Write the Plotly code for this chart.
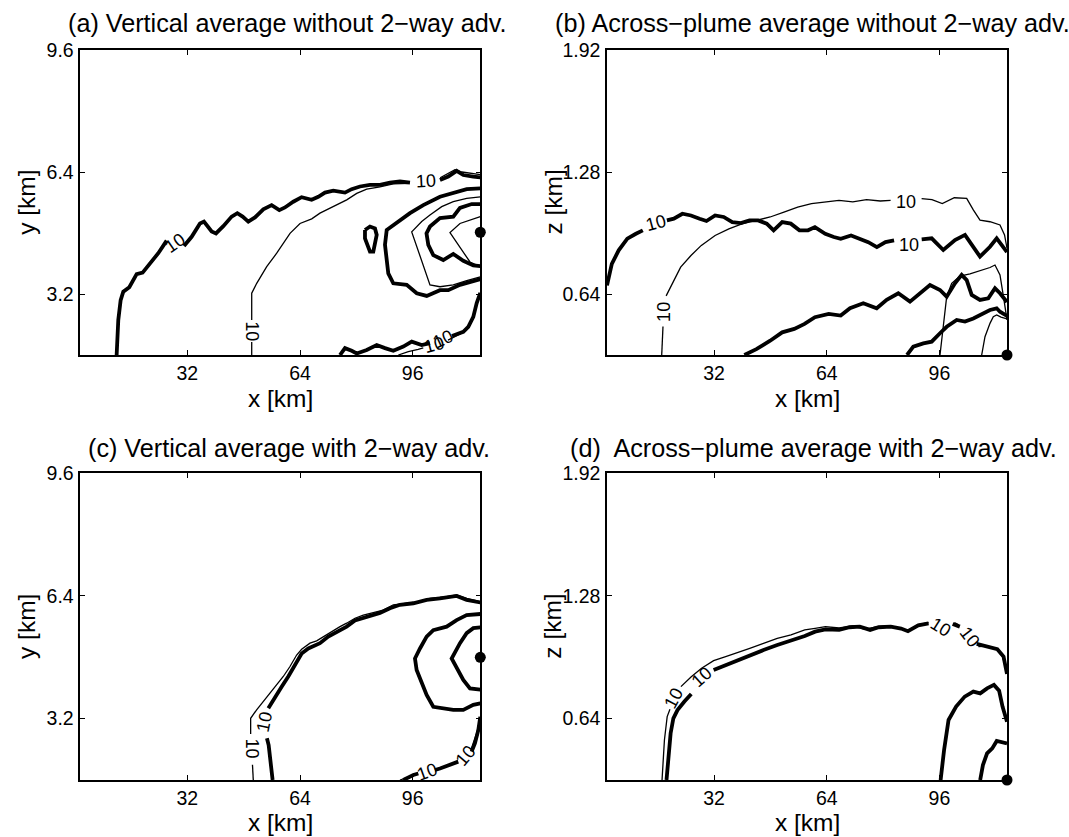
import plotly.graph_objects as go

FONT = "Liberation Sans, Arial, Helvetica, sans-serif"
MINUS = "\u2212"

# ---------------- data (km) ----------------
x_range = [1.6, 115.2]
y_range = [1.6, 9.6]
z_range = [0.32, 1.92]
x_ticks = [32, 64, 96]
y_ticks = [3.2, 6.4, 9.6]
z_ticks = [0.64, 1.28, 1.92]

titles = ["(a) Vertical average without 2" + MINUS + "way adv.",
          "(b) Across" + MINUS + "plume average without 2" + MINUS + "way adv.",
          "(c) Vertical average with 2" + MINUS + "way adv.",
          "(d)  Across" + MINUS + "plume average with 2" + MINUS + "way adv."]
x_label = "x [km]"
y_label = "y [km]"
z_label = "z [km]"
contour_text = "10"

# panel (a)
a_out_thick_x = [11.92, 12.39, 13.06, 13.81, 15.52, 17.60, 19.30, 21.39, 23.75, 26.12, None, 31.04, 33.22, 35.59, 36.72, 38.90, 40.13, 42.21, 44.58, 46.19, 47.70, 49.31, 51.21, 53.57, 55.94, 58.12, 59.73, 62.09, 64.46, 67.30, 69.19, 71.09, 73.45, 76.77, 78.66, 81.03, 83.87, 86.71, 89.55, 92.39, 95.23, None, 103.75, 106.11, 108.48, 110.38, 113.21, 115.2]
a_out_thick_y = [1.60, 2.52, 3.04, 3.26, 3.38, 3.72, 3.76, 3.99, 4.27, 4.60, None, 4.46, 4.70, 5.05, 5.10, 4.84, 4.79, 4.98, 5.23, 5.32, 5.23, 5.10, 5.21, 5.42, 5.53, 5.40, 5.47, 5.62, 5.74, 5.67, 5.75, 5.86, 5.91, 5.86, 5.95, 6.02, 6.06, 6.06, 6.12, 6.15, 6.12, None, 6.19, 6.28, 6.43, 6.32, 6.28, 6.26]
a_out_thin_x = [50.28, 50.28, None, 50.28, 50.28, 51.70, 54.54, 57.38, 61.16, 64.00, 67.32, 69.67, 73.45, 77.26, 80.10, 82.94, 86.71, 90.49, 95.00, None, 103.8, 108.0, 110.0, 113.2, 115.2]
a_out_thin_y = [1.60, 1.94, None, 2.52, 3.22, 3.48, 3.92, 4.27, 4.79, 5.05, 5.17, 5.32, 5.49, 5.67, 5.84, 5.95, 6.01, 6.09, 6.10, None, 6.25, 6.46, 6.40, 6.35, 6.33]
a_ring2_thick_x = [115.2, 111.34, 103.75, 99.01, 95.23, 92.39, 88.62, 88.13, 88.62, 89.07, 90.49, 94.30, 97.14, 99.98, 103.75, 106.11, 109.43, 115.2]
a_ring2_thick_y = [5.97, 5.95, 5.75, 5.53, 5.32, 5.14, 4.88, 4.49, 4.09, 3.74, 3.48, 3.44, 3.22, 3.15, 3.30, 3.30, 3.44, 3.59]
a_loop_thick_x = [82.45, 83.87, 85.29, 85.78, 85.29, 84.81, 83.87, 83.11, 82.45, 82.45]
a_loop_thick_y = [4.88, 4.97, 4.92, 4.75, 4.53, 4.31, 4.31, 4.49, 4.66, 4.88]
a_ring3_thin_x = [115.2, 111.34, 107.53, 104.24, 100.91, 98.56, 95.72, 97.14, 98.56, 99.98, 100.91, 103.75, 107.53, 111.34, 115.2]
a_ring3_thin_y = [5.75, 5.71, 5.62, 5.49, 5.27, 5.10, 4.83, 4.44, 4.09, 3.70, 3.44, 3.39, 3.44, 3.55, 3.65]
a_ring4_thick_x = [115.2, 112.76, 109.43, 107.53, 103.75, 100.91, 99.92, 100.43, 101.85, 104.69, 107.53, 110.37, 113.21, 115.2]
a_ring4_thick_y = [5.56, 5.56, 5.46, 5.23, 5.19, 4.97, 4.79, 4.49, 4.22, 4.09, 4.25, 4.07, 3.95, 3.93]
a_ring5_thin_x = [115.2, 109.43, 106.59, 109.43, 112.27, 115.2]
a_ring5_thin_y = [5.23, 5.05, 4.81, 4.44, 4.04, 3.92]
a_bot_thick_x = [75.35, 76.77, 78.68, 80.10, 82.94, 85.78, 88.13, 90.49, 93.33, 95.72, 98.56, 100.91, None, 107.16, 110.37, 111.79, 113.21, 114.18, 115.2]
a_bot_thick_y = [1.60, 1.78, 1.71, 1.64, 1.73, 1.86, 1.78, 1.71, 1.82, 1.95, 1.86, 1.91, None, 2.10, 2.21, 2.34, 2.60, 2.96, 3.23]
a_bot_thin_x = [91.92, 94.76, 97.56, 99.0, None, 106.03, 109.46, 111.42, 112.84, 113.97, 115.2]
a_bot_thin_y = [1.60, 1.69, 1.75, 1.79, None, 1.99, 2.15, 2.31, 2.54, 2.89, 3.20]
a_lab_x = [28.5, 99.7, 50.28, 102.0, 104.6]
a_lab_y = [4.54, 6.17, 2.23, 1.87, 2.02]
a_lab_ang = [-35, -3, 90, -15, -25]
a_src = [115.2, 4.82]

# panel (b)
b_t1_thick_x = [1.6, 2.97, 4.92, 7.37, 9.81, 11.77, None, 18.61, 20.57, 23.01, 25.45, 27.90, 29.85, 32.30, 34.74, 37.18, 39.63, 42.07, 44.52, 46.96, 48.92, 51.36, 53.80, 56.25, 58.69, 60.65, 63.58, 66.02, 67.98, 70.91, 73.36, 75.80, 78.24, 80.69, 83.13, None, 90.97, 93.81, 97.11, 100.43, 103.27, 107.53, 110.37, 112.27, 115.2]
b_t1_thick_y = [0.685, 0.798, 0.869, 0.930, 0.956, 0.974, None, 1.026, 1.035, 1.061, 1.052, 1.035, 1.023, 1.052, 1.044, 1.017, 1.012, 1.026, 1.026, 1.009, 0.974, 1.017, 1.009, 0.974, 0.974, 0.991, 0.956, 0.939, 0.930, 0.947, 0.930, 0.912, 0.886, 0.912, 0.921, None, 0.927, 0.932, 0.871, 0.923, 0.950, 0.836, 0.888, 0.932, 0.860]
b_t2_thin_x = [17.14, 17.44, 17.50, None, 18.40, 20.08, 22.52, 25.45, 28.39, 32.30, 36.21, 40.12, 44.03, 47.94, 51.85, 55.76, 59.67, 63.58, 67.49, 71.40, 75.31, 79.22, 82.15, None, 90.95, 93.89, 96.82, 100.24, 103.75, 105.63, 107.53, 110.37, 113.21, 114.5, 115.2]
b_t2_thin_y = [0.32, 0.430, 0.470, None, 0.630, 0.693, 0.781, 0.842, 0.895, 0.947, 0.982, 1.009, 1.026, 1.044, 1.070, 1.096, 1.114, 1.123, 1.131, 1.123, 1.135, 1.128, 1.131, None, 1.140, 1.135, 1.114, 1.145, 1.142, 1.081, 1.028, 1.019, 1.002, 0.95, 0.88]
b_t3_thick_x = [40.61, 44.03, 47.94, 51.36, 54.78, 57.71, 60.65, 64.56, 67.98, 70.61, 74.39, 78.19, 81.03, 84.33, 87.65, 90.49, 93.33, 96.17, 98.07, 100.43, 102.33, 103.75, 105.17, 107.53, 109.89, 111.79, 113.21, 115.2]
b_t3_thick_y = [0.32, 0.351, 0.395, 0.439, 0.457, 0.483, 0.518, 0.536, 0.527, 0.565, 0.591, 0.565, 0.609, 0.644, 0.600, 0.644, 0.687, 0.661, 0.626, 0.696, 0.740, 0.713, 0.635, 0.609, 0.617, 0.670, 0.644, 0.598]
b_t4_thin_x = [96.17, 97.11, 98.07, 99.49, 101.85, 104.69, 107.53, 110.37, 111.79, 113.21, 114.35, 115.2]
b_t4_thin_y = [0.32, 0.486, 0.626, 0.696, 0.734, 0.745, 0.761, 0.779, 0.792, 0.740, 0.608, 0.504]
b_t5_thick_x = [86.80, 88.59, 91.43, 93.81, 96.17, 98.07, 100.91, 103.27, 105.63, 107.53, 110.37, 112.27, 113.21, 115.2]
b_t5_thick_y = [0.32, 0.364, 0.381, 0.390, 0.434, 0.468, 0.504, 0.495, 0.512, 0.530, 0.556, 0.565, 0.547, 0.525]
b_t6_thin_x = [108.01, 108.95, 110.37, 111.31, 112.27, 113.50, 115.2]
b_t6_thin_y = [0.32, 0.416, 0.486, 0.521, 0.530, 0.519, 0.509]
b_lab_x = [15.5, 17.6, 86.6, 87.5]
b_lab_y = [1.012, 0.548, 1.123, 0.895]
b_lab_ang = [-15, -90, 0, 0]
b_src = [115.2, 0.32]

# panel (c)
c_out_thin_x = [50.73, 50.50, None, 49.98, 49.98, 51.68, 53.57, 55.47, 57.36, 59.25, 61.15, 63.04, 64.46, 66.83, 68.72, 70.61, 72.51, 75.35, 77.24, 79.61, 81.97, 84.81, 87.65, 90.49, 94.28, 98.07, 100.91, 105.64, 108.48, 111.32, 115.2]
c_out_thin_y = [1.60, 2.00, None, 2.80, 3.21, 3.43, 3.64, 3.86, 4.08, 4.30, 4.56, 4.86, 5.01, 5.17, 5.23, 5.34, 5.43, 5.60, 5.69, 5.82, 5.90, 5.96, 6.03, 6.17, 6.21, 6.25, 6.34, 6.38, 6.43, 6.34, 6.25]
c_out_thick_x = [56.22, 55.65, 55.09, 54.6, None, 55.0, 56.89, 58.78, 60.67, 62.57, 64.46, 66.35, 67.77, 69.67, 72.03, 74.40, 77.24, 79.61, 82.92, 86.71, 89.55, 92.39, 96.18, 99.96, 103.75, 108.48, 111.32, 115.2]
c_out_thick_y = [1.60, 2.12, 2.51, 2.69, None, 3.47, 3.77, 4.03, 4.30, 4.60, 4.90, 5.03, 5.08, 5.17, 5.34, 5.47, 5.60, 5.76, 5.86, 5.96, 6.08, 6.17, 6.21, 6.30, 6.34, 6.40, 6.30, 6.23]
c_ring2_thick_x = [115.2, 111.32, 108.48, 105.64, 101.85, 99.96, 98.07, 96.65, 97.12, 98.54, 99.96, 101.85, 104.69, 107.53, 110.37, 113.21, 115.2]
c_ring2_thick_y = [5.93, 5.90, 5.77, 5.60, 5.51, 5.34, 5.03, 4.77, 4.47, 4.12, 3.82, 3.51, 3.47, 3.43, 3.43, 3.56, 3.60]
c_ring3_thick_x = [115.2, 113.21, 111.32, 109.43, 107.06, 108.48, 110.37, 112.27, 115.2]
c_ring3_thick_y = [5.58, 5.56, 5.43, 5.17, 4.77, 4.51, 4.21, 3.99, 3.96]
c_bot_thick_x = [115.2, 114.63, 113.69, 112.74, None, 108.95, 106.59, 103.75, 102.3, None, 97.6, 96.18, 93.33]
c_bot_thick_y = [3.25, 2.90, 2.56, 2.34, None, 2.08, 1.99, 1.90, 1.86, None, 1.77, 1.73, 1.60]
c_bot_thin_x = [92.39, 95.23, 97.4, None, 102.6, 106.59, 108.8, None, 112.6, 114.16, 115.2]
c_bot_thin_y = [1.60, 1.70, 1.76, None, 1.88, 2.00, 2.09, None, 2.40, 2.82, 3.21]
c_lab_x = [50.28, 53.8, 100.0, 111.0]
c_lab_y = [2.43, 3.12, 1.82, 2.22]
c_lab_ang = [90, -78, -20, -50]
c_src = [115.2, 4.80]

# panel (d)
d_out_thin_x = [17.23, 17.91, 18.69, 19.48, None, 22.60, 25.53, 28.46, 31.88, 35.30, 38.23, 42.14, 46.04, 49.95, 53.86, 57.77, 60.70, 63.63, 67.53, 71.44, 74.86, 78.28, 82.19, 85.12, 87.07, 90.00, 92.93, None, 100.26, 101.5, None, 107.09, 109.54, 111.98, 113.93, 115.2]
d_out_thin_y = [0.32, 0.529, 0.651, 0.689, None, 0.807, 0.859, 0.903, 0.943, 0.964, 0.981, 1.007, 1.033, 1.059, 1.077, 1.103, 1.111, 1.120, 1.113, 1.124, 1.106, 1.120, 1.124, 1.111, 1.099, 1.130, 1.141, None, 1.141, 1.130, None, 1.016, 1.019, 1.007, 0.964, 0.877]
d_out_thick_x = [18.50, 19.18, 19.67, 20.45, 21.62, 23.58, 25.53, None, 31.88, 35.30, 38.23, 42.14, 46.04, 49.95, 53.86, 57.77, 60.70, 63.63, 67.53, 70.46, 73.39, 76.33, 78.77, 82.19, 85.12, 87.07, 90.00, 92.93, None, 99.77, 101.8, None, 106.60, 109.53, 112.46, 114.22, 115.2]
d_out_thick_y = [0.32, 0.459, 0.564, 0.642, 0.685, 0.729, 0.769, None, 0.894, 0.920, 0.943, 0.969, 0.998, 1.024, 1.047, 1.071, 1.094, 1.106, 1.103, 1.117, 1.120, 1.103, 1.117, 1.120, 1.110, 1.096, 1.127, 1.137, None, 1.134, 1.120, None, 1.030, 1.016, 1.002, 0.964, 0.873]
d_in1_thick_x = [96.35, 97.33, 98.60, 100.75, 103.19, 105.64, 107.59, 109.54, 111.49, 112.96, 113.93, 115.2]
d_in1_thick_y = [0.32, 0.477, 0.633, 0.703, 0.755, 0.781, 0.772, 0.798, 0.816, 0.786, 0.703, 0.624]
d_in2_thick_x = [107.58, 108.36, 109.54, 111.01, 112.28, 113.93, 115.2]
d_in2_thick_y = [0.32, 0.398, 0.459, 0.485, 0.524, 0.515, 0.511]
d_lab_x = [20.65, 28.6, 96.35, 104.65]
d_lab_y = [0.746, 0.855, 1.12, 1.068]
d_lab_ang = [-62, -42, 32, 52]
d_src = [115.2, 0.32]

# ---------------- styling / layout ----------------
W, H = 1069, 837
THICK, THIN = 3.8, 1.3
# plot frames in pixels: (left, right, top, bottom)
frames = {1: (80.3, 480.3, 50, 355), 2: (607, 1007, 50, 355),
          3: (80.3, 480.3, 473.3, 780), 4: (607, 1007, 473.3, 780)}
xlabel_offset = {1: 44, 2: 44, 3: 42, 4: 42}


def px(x):
    return x / W


def py(y):
    return 1 - y / H


fig = go.Figure()


def add_line(n, xs, ys, width):
    sfx = "" if n == 1 else str(n)
    fig.add_trace(go.Scatter(x=xs, y=ys, mode="lines", xaxis="x" + sfx, yaxis="y" + sfx,
                             line=dict(color="black", width=width), connectgaps=False,
                             hoverinfo="skip", showlegend=False))


def add_src(n, pt):
    sfx = "" if n == 1 else str(n)
    fig.add_trace(go.Scatter(x=[pt[0]], y=[pt[1]], mode="markers", xaxis="x" + sfx, yaxis="y" + sfx,
                             marker=dict(color="black", size=11), cliponaxis=False,
                             hoverinfo="skip", showlegend=False))


annotations = []


def add_labels(n, xs, ys, angs):
    sfx = "" if n == 1 else str(n)
    for x, y, a in zip(xs, ys, angs):
        annotations.append(dict(x=x, y=y, xref="x" + sfx, yref="y" + sfx, text=contour_text,
                                showarrow=False, textangle=a,
                                font=dict(family=FONT, size=18, color="black")))


# panel a
add_line(1, a_out_thick_x, a_out_thick_y, THICK)
add_line(1, a_out_thin_x, a_out_thin_y, THIN)
add_line(1, a_ring2_thick_x, a_ring2_thick_y, THICK)
add_line(1, a_loop_thick_x, a_loop_thick_y, THICK)
add_line(1, a_ring3_thin_x, a_ring3_thin_y, THIN)
add_line(1, a_ring4_thick_x, a_ring4_thick_y, THICK)
add_line(1, a_ring5_thin_x, a_ring5_thin_y, THIN)
add_line(1, a_bot_thick_x, a_bot_thick_y, THICK)
add_line(1, a_bot_thin_x, a_bot_thin_y, THIN)
add_src(1, a_src)
add_labels(1, a_lab_x, a_lab_y, a_lab_ang)

# panel b
add_line(2, b_t1_thick_x, b_t1_thick_y, THICK)
add_line(2, b_t2_thin_x, b_t2_thin_y, THIN)
add_line(2, b_t3_thick_x, b_t3_thick_y, THICK)
add_line(2, b_t4_thin_x, b_t4_thin_y, THIN)
add_line(2, b_t5_thick_x, b_t5_thick_y, THICK)
add_line(2, b_t6_thin_x, b_t6_thin_y, THIN)
add_src(2, b_src)
add_labels(2, b_lab_x, b_lab_y, b_lab_ang)

# panel c
add_line(3, c_out_thin_x, c_out_thin_y, THIN)
add_line(3, c_out_thick_x, c_out_thick_y, THICK)
add_line(3, c_ring2_thick_x, c_ring2_thick_y, THICK)
add_line(3, c_ring3_thick_x, c_ring3_thick_y, THICK)
add_line(3, c_bot_thick_x, c_bot_thick_y, THICK)
add_line(3, c_bot_thin_x, c_bot_thin_y, THIN)
add_src(3, c_src)
add_labels(3, c_lab_x, c_lab_y, c_lab_ang)

# panel d
add_line(4, d_out_thin_x, d_out_thin_y, THIN)
add_line(4, d_out_thick_x, d_out_thick_y, THICK)
add_line(4, d_in1_thick_x, d_in1_thick_y, THICK)
add_line(4, d_in2_thick_x, d_in2_thick_y, THICK)
add_src(4, d_src)
add_labels(4, d_lab_x, d_lab_y, d_lab_ang)

tick_font = dict(family=FONT, size=19.5, color="black")
layout = dict(width=W, height=H, margin=dict(l=0, r=0, t=0, b=0, pad=0, autoexpand=False),
              paper_bgcolor="white", plot_bgcolor="white", showlegend=False)

for n, (l, r, t, b) in frames.items():
    sfx = "" if n == 1 else str(n)
    vertical = n in (1, 3)
    common = dict(ticks="inside", ticklen=5, tickwidth=1, tickcolor="black",
                  showline=True, linecolor="black", linewidth=1.5, mirror="ticks",
                  showgrid=False, zeroline=False, tickfont=tick_font, automargin=False)
    layout["xaxis" + sfx] = dict(domain=[px(l), px(r)], range=x_range, tickvals=x_ticks,
                                 anchor="y" + sfx, ticklabelstandoff=0, **common)
    layout["yaxis" + sfx] = dict(domain=[py(b), py(t)], range=y_range if vertical else z_range,
                                 tickvals=y_ticks if vertical else z_ticks,
                                 anchor="x" + sfx, ticklabelstandoff=1, **common)

title_pos = [(286.5, 23), (812, 23), (288.7, 448), (813.7, 448)]
for text, (x, y) in zip(titles, title_pos):
    annotations.append(dict(x=px(x), y=py(y), xref="paper", yref="paper", text=text,
                            showarrow=False, xanchor="center", yanchor="middle",
                            font=dict(family=FONT, size=25.2, color="black")))

for n, (l, r, t, b) in frames.items():
    annotations.append(dict(x=px((l + r) / 2), y=py(b + xlabel_offset[n]), xref="paper", yref="paper",
                            text=x_label, showarrow=False, xanchor="center", yanchor="middle",
                            font=dict(family=FONT, size=24.5, color="black")))
    lab = y_label if n in (1, 3) else z_label
    annotations.append(dict(x=px(l - 54), y=py((t + b) / 2), xref="paper", yref="paper", text=lab,
                            showarrow=False, xanchor="center", yanchor="middle", textangle=-90,
                            font=dict(family=FONT, size=24.5, color="black")))

layout["annotations"] = annotations
fig.update_layout(**layout)
fig.write_html("out.html", config={"displayModeBar": False},
               post_script="document.body.style.margin='0';document.body.style.padding='0';"
                           "document.documentElement.style.overflow='hidden';")
